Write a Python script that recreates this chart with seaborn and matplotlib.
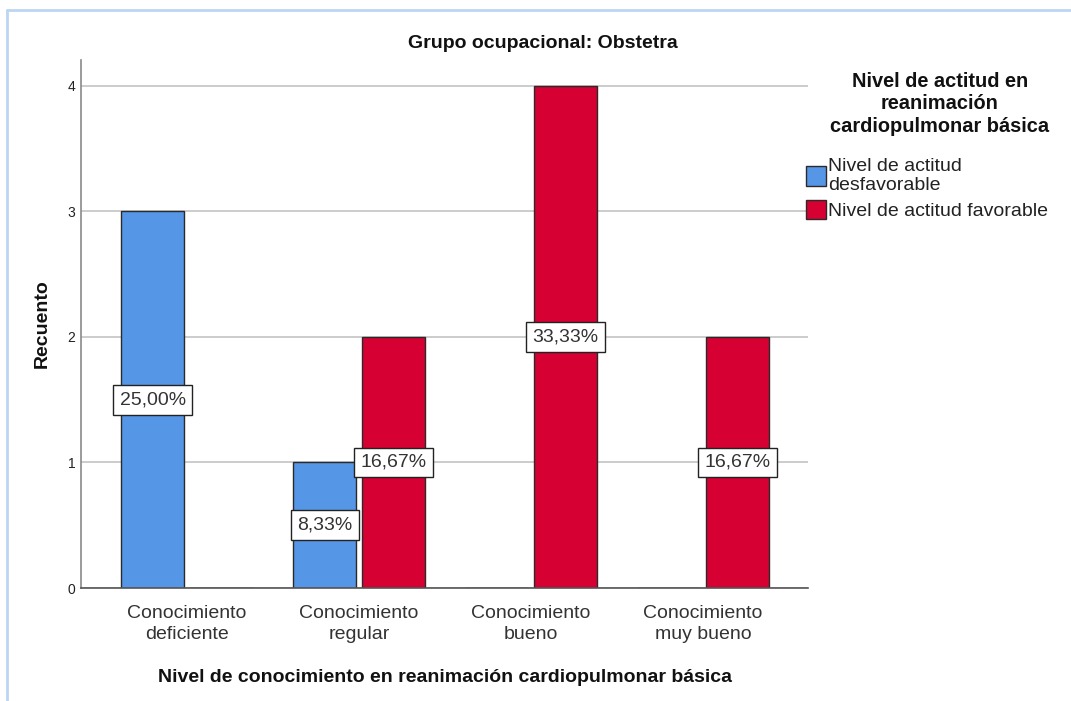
import matplotlib
matplotlib.use("Agg")
import matplotlib.pyplot as plt
from matplotlib.lines import Line2D
import seaborn as sns
import pandas as pd

categories = ["Conocimiento\ndeficiente", "Conocimiento\nregular", "Conocimiento\nbueno", "Conocimiento\nmuy bueno"]
hue_levels = ["Nivel de actitud\ndesfavorable", "Nivel de actitud favorable"]
counts_desfavorable = [3, 1, 0, 0]
counts_favorable = [0, 2, 4, 2]
pct_desfavorable = ["25,00%", "8,33%", "", ""]
pct_favorable = ["", "16,67%", "33,33%", "16,67%"]
colors = ["#5596E6", "#D70032"]
yticks = [0, 1, 2, 3, 4]

title = "Grupo ocupacional: Obstetra"
xlabel = "Nivel de conocimiento en reanimación cardiopulmonar básica"
ylabel = "Recuento"
legend_title = "Nivel de actitud en\nreanimación\ncardiopulmonar básica"

sns.set_theme(style="white")
plt.rcParams["font.family"] = ["Liberation Sans", "DejaVu Sans"]

df = pd.DataFrame({
    "cat": categories * 2,
    "hue": [hue_levels[0]] * len(categories) + [hue_levels[1]] * len(categories),
    "val": counts_desfavorable + counts_favorable,
})

fig = plt.figure(figsize=(10.71, 7.01), dpi=100)
ax = fig.add_axes([81 / 1071, 1 - 588 / 701, (808 - 81) / 1071, (588 - 60) / 701])

sns.barplot(data=df, x="cat", y="val", hue="hue", order=categories, hue_order=hue_levels,
            palette=colors, width=0.8, gap=0.09, edgecolor="#2a2a2a", linewidth=1.0,
            saturation=1, ax=ax, errorbar=None)

ax.set_xlim(-0.616, 3.61)
ax.set_ylim(0, 4.207)
ax.set_yticks(yticks)
ax.yaxis.grid(True, color="#cccccc", linewidth=1.4)
ax.xaxis.grid(False)
ax.set_axisbelow(True)
for s in ["top", "right"]:
    ax.spines[s].set_visible(False)
ax.spines["left"].set_color("#8a8a8a")
ax.spines["bottom"].set_color("#555555")
ax.spines["left"].set_linewidth(1.2)
ax.spines["bottom"].set_linewidth(1.2)
ax.tick_params(axis="y", length=0, pad=4, labelsize=10, labelcolor="#222222")
ax.tick_params(axis="x", length=0, pad=12, labelsize=14, labelcolor="#333333")
for t in ax.get_xticklabels():
    t.set_linespacing(1.3)

ax.set_xlabel(xlabel, fontsize=14, fontweight="bold", color="#111111")
ax.xaxis.set_label_coords(0.5, -0.153)
ax.xaxis.label.set_va("top")
ax.set_ylabel(ylabel, fontsize=14, fontweight="bold", color="#111111")
ax.yaxis.set_label_coords(-0.042, 0.5)

pcts = [pct_desfavorable, pct_favorable]
for container, labels in zip(ax.containers, pcts):
    for bar, lab in zip(container, labels):
        if not lab:
            continue
        h = bar.get_height()
        ax.text(bar.get_x() + bar.get_width() / 2, h / 2, lab, ha="center", va="center",
                fontsize=14, color="#333333",
                bbox=dict(boxstyle="square,pad=0.33", fc="white", ec="#222222", lw=1.0))

handles, labs = ax.get_legend_handles_labels()
leg = ax.legend(handles, labs, loc="upper left",
                bbox_to_anchor=(806 / 1071, 1 - 158 / 701), bbox_transform=fig.transFigure,
                frameon=False, fontsize=14,
                handlelength=1.03, handleheight=1.15, handletextpad=0.1, labelspacing=0.3,
                borderpad=0, borderaxespad=0)
for t in leg.get_texts():
    t.set_color("#222222")
    t.set_linespacing(1.17)

fig.text(940 / 1071, 1 - 72 / 701, legend_title, ha="center", va="top", fontsize=14.4,
         fontweight="bold", color="#111111", linespacing=1.22, multialignment="center")

fig.text(543 / 1071, 1 - 43 / 701, title, ha="center", va="center", fontsize=14,
         fontweight="bold", color="#111111")

bc = "#BBD6F2"
fig.add_artist(Line2D([7 / 1071, 7 / 1071], [0, 1 - 10 / 701], transform=fig.transFigure, color=bc, lw=2))
fig.add_artist(Line2D([7 / 1071, 1], [1 - 10 / 701, 1 - 10 / 701], transform=fig.transFigure, color=bc, lw=2))

fig.savefig("out.png", dpi=100)
